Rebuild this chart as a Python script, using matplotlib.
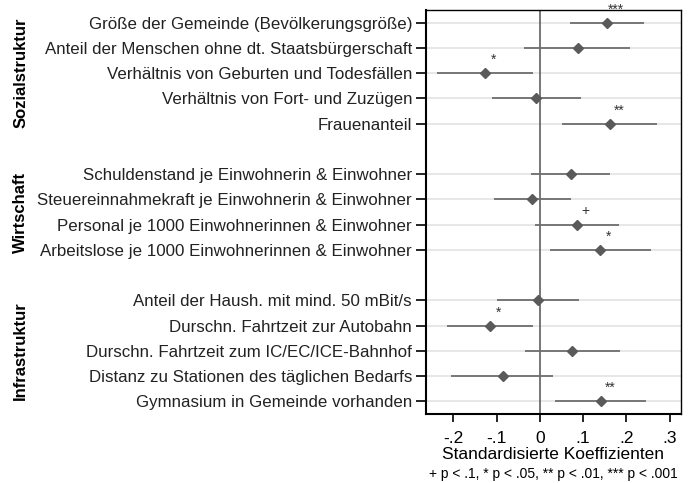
import matplotlib
matplotlib.use("Agg")
import matplotlib.pyplot as plt
import matplotlib.transforms as mtransforms

plt.rcParams['font.family'] = ['Liberation Sans', 'DejaVu Sans']

# variable labels, top to bottom
labels = [
    "Größe der Gemeinde (Bevölkerungsgröße)",
    "Anteil der Menschen ohne dt. Staatsbürgerschaft",
    "Verhältnis von Geburten und Todesfällen",
    "Verhältnis von Fort- und Zuzügen",
    "Frauenanteil",
    "Schuldenstand je Einwohnerin & Einwohner",
    "Steuereinnahmekraft je Einwohnerin & Einwohner",
    "Personal je 1000 Einwohnerinnen & Einwohner",
    "Arbeitslose je 1000 Einwohnerinnen & Einwohner",
    "Anteil der Haush. mit mind. 50 mBit/s",
    "Durschn. Fahrtzeit zur Autobahn",
    "Durschn. Fahrtzeit zum IC/EC/ICE-Bahnhof",
    "Distanz zu Stationen des täglichen Bedarfs",
    "Gymnasium in Gemeinde vorhanden",
]
groups = ["Sozialstruktur", "Wirtschaft", "Infrastruktur"]
group_sizes = [5, 4, 5]

coef = [0.155, 0.088, -0.126, -0.008, 0.163,
        0.071, -0.018, 0.085, 0.139,
        -0.005, -0.116, 0.074, -0.085, 0.142]
ci_low = [0.069, -0.036, -0.237, -0.110, 0.052,
          -0.020, -0.107, -0.012, 0.023,
          -0.100, -0.215, -0.035, -0.205, 0.035]
ci_high = [0.241, 0.209, -0.016, 0.095, 0.271,
           0.163, 0.073, 0.182, 0.256,
           0.090, -0.016, 0.185, 0.030, 0.246]
stars = ["***", "", "*", "", "**",
         "", "", "+", "*",
         "", "*", "", "", "**"]

xticks = [-0.2, -0.1, 0, 0.1, 0.2, 0.3]
xticklabels = ["-.2", "-.1", "0", ".1", ".2", ".3"]

# y positions with one empty row between groups
ypos = []
start = 1
for n in group_sizes:
    ypos += list(range(start, start + n))
    start += n + 1

fig = plt.figure(figsize=(6.94, 4.83), dpi=100)
ax = fig.add_axes([0.6138, 0.1429, 0.3675, 0.8364])

for y in ypos:
    ax.axhline(y, color='#e3e3e3', lw=1.2, zorder=0)
ax.axvline(0, color='#606060', lw=1.2, zorder=1)

ax.hlines(ypos, ci_low, ci_high, color='#6e6e6e', lw=1.3, zorder=2)
ax.plot(coef, ypos, 'D', color='#5a5a5a', ms=5.5, zorder=3)

for x, y, s in zip(coef, ypos, stars):
    if s:
        ax.text(x + 0.02, y - 0.25, s, ha='center', va='bottom',
                fontsize=10, color='#333333', clip_on=False)

ax.set_xlim(-0.263, 0.326)
ax.set_ylim(16.5, 0.5)
ax.set_yticks(ypos)
ax.set_yticklabels(labels, fontsize=12.2, color='#222222')
ax.set_xticks(xticks)
ax.set_xticklabels(xticklabels, fontsize=12.5)
ax.tick_params(axis='y', length=7, width=1.2, pad=3)
ax.tick_params(axis='x', length=6, width=1.2, pad=6)
ax.set_xlabel("Standardisierte Koeffizienten", fontsize=12.5, labelpad=1)

for side in ['left', 'bottom']:
    ax.spines[side].set_linewidth(1.5)
for side in ['top', 'right']:
    ax.spines[side].set_linewidth(1.0)

# group labels on the far left
trans = mtransforms.blended_transform_factory(fig.transFigure, ax.transData)
i = 0
for g, n in zip(groups, group_sizes):
    yc = (ypos[i] + ypos[i + n - 1]) / 2
    ax.text(0.03, yc, g, rotation=90, ha='center', va='center',
            fontsize=12, fontweight='bold', transform=trans)
    i += n

fig.text(0.7975, 0.005, "+ p < .1, * p < .05, ** p < .01, *** p < .001",
         ha='center', va='bottom', fontsize=10)

fig.savefig('out.png', dpi=100)
